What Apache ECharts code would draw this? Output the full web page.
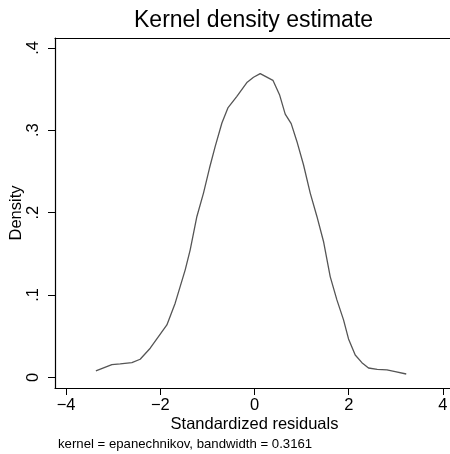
<!DOCTYPE html>
<html>
<head>
<meta charset="utf-8">
<script src="https://cdn.jsdelivr.net/npm/echarts@6/dist/echarts.min.js"></script>
<style>html,body{margin:0;padding:0;background:#fff}#c{width:450px;height:454px}</style>
</head>
<body>
<div id="c"></div>
<script>
// Standardized residual grid points (x) and estimated density (y)
const xValues = [-3.367, -3.028, -2.851, -2.603, -2.427, -2.214, -1.860, -1.684, -1.471, -1.365,
  -1.223, -1.083, -0.955, -0.834, -0.692, -0.565, -0.374, -0.155, -0.021, 0.121,
  0.391, 0.531, 0.652, 0.779, 0.900, 1.040, 1.183, 1.325, 1.465, 1.607,
  1.749, 1.890, 1.996, 2.138, 2.280, 2.420, 2.605, 2.811, 2.987, 3.221];
const densityValues = [0.0077, 0.0153, 0.0162, 0.0178, 0.0219, 0.0353, 0.0636, 0.090, 0.1305, 0.1548,
  0.1953, 0.2237, 0.2541, 0.2804, 0.3088, 0.3271, 0.3412, 0.3584, 0.3643, 0.3688,
  0.3606, 0.3432, 0.3195, 0.308, 0.2864, 0.2581, 0.2237, 0.1953, 0.1649, 0.1223,
  0.094, 0.0697, 0.0466, 0.0271, 0.0178, 0.0113, 0.0097, 0.0089, 0.0068, 0.004];
const xTicks = [-4, -2, 0, 2, 4];
const yTicks = [0, 0.1, 0.2, 0.3, 0.4];
const titleText = 'Kernel density estimate';
const xTitle = 'Standardized residuals';
const yTitle = 'Density';
const noteText = 'kernel = epanechnikov, bandwidth = 0.3161';

const FONT = '"Liberation Sans", Arial, Helvetica, sans-serif';
const chart = echarts.init(document.getElementById('c'), null, {renderer: 'canvas'});
const xMin = -4.235, xMax = 4.235, yMin = -0.013, yMax = 0.412;

chart.setOption({
  animation: false,
  backgroundColor: '#fff',
  title: {
    text: titleText, left: 134, top: 9, padding: 0,
    textStyle: {fontFamily: FONT, fontSize: 23, fontWeight: 'normal', color: '#000'}
  },
  grid: {left: 55, right: -4, top: 38, bottom: 66, containLabel: false, outerBoundsMode: 'none'},
  xAxis: [{
    type: 'value', min: xMin, max: xMax, position: 'bottom',
    name: xTitle, nameLocation: 'middle', nameGap: 28, nameMoveOverlap: false,
    nameTextStyle: {fontFamily: FONT, fontSize: 16.5, color: '#000'},
    axisLine: {show: true, onZero: false, lineStyle: {color: '#000', width: 1.2}},
    axisTick: {show: true, length: 7, customValues: xTicks, lineStyle: {color: '#000', width: 1}},
    axisLabel: {show: true, margin: 9, customValues: xTicks, fontFamily: FONT, fontSize: 16.5, color: '#000',
      formatter: v => v < 0 ? '\u2212' + Math.abs(v) : String(v)},
    splitLine: {show: false}
  }, {
    type: 'value', min: xMin, max: xMax, position: 'top',
    axisLine: {show: true, onZero: false, lineStyle: {color: '#000', width: 1.2}},
    axisTick: {show: false}, axisLabel: {show: false}, splitLine: {show: false}
  }],
  yAxis: {
    type: 'value', min: yMin, max: yMax, position: 'left',
    name: yTitle, nameLocation: 'middle', nameGap: 30, nameRotate: 90, nameMoveOverlap: false,
    nameTextStyle: {fontFamily: FONT, fontSize: 16.5, color: '#000'},
    axisLine: {show: true, onZero: false, lineStyle: {color: '#000', width: 1.2}},
    axisTick: {show: true, length: 7, customValues: yTicks, lineStyle: {color: '#000', width: 1}},
    axisLabel: {show: true, rotate: 90, margin: 13, customValues: yTicks, fontFamily: FONT, fontSize: 16.5, color: '#000',
      formatter: v => v === 0 ? '0' : String(+v.toFixed(2)).replace(/^0/, '')},
    splitLine: {show: false}
  },
  graphic: [{
    type: 'text', left: 58, top: 438,
    style: {text: noteText, font: '13.2px ' + FONT, fill: '#000'}
  }],
  series: [{
    type: 'line', xAxisIndex: 0,
    data: xValues.map((x, i) => [x, densityValues[i]]),
    showSymbol: false, smooth: false,
    lineStyle: {color: '#555', width: 1.3}
  }]
});
</script>
</body>
</html>
